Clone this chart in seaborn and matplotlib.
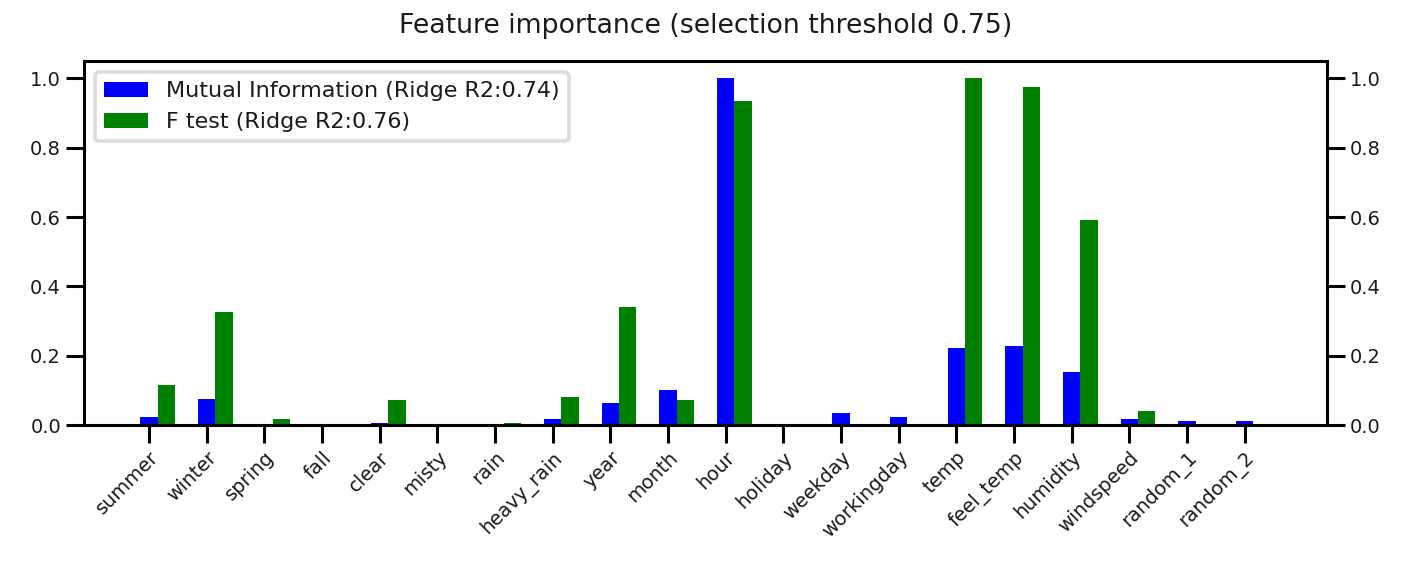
import numpy as np
import seaborn as sns
from matplotlib import pyplot as plt

features = ['summer', 'winter', 'spring', 'fall', 'clear', 'misty', 'rain', 'heavy_rain',
            'year', 'month', 'hour', 'holiday', 'weekday', 'workingday', 'temp',
            'feel_temp', 'humidity', 'windspeed', 'random_1', 'random_2']
mutual_info = [0.024, 0.076, 0.0, 0.0, 0.007, 0.0, 0.0, 0.018, 0.064, 0.100, 1.0,
               0.0, 0.035, 0.024, 0.221, 0.227, 0.152, 0.018, 0.012, 0.012]
f_test = [0.117, 0.326, 0.017, 0.0, 0.071, 0.0, 0.006, 0.082, 0.342, 0.071, 0.936,
          0.0, 0.0, 0.0, 1.0, 0.975, 0.592, 0.042, 0.0, 0.0]
mi_label = 'Mutual Information (Ridge R2:0.74)'
f_label = 'F test (Ridge R2:0.76)'

sns.set_theme(style="ticks")
plt.rcParams['font.family'] = ['DejaVu Sans']
plt.rcParams.update({
    'axes.linewidth': 2.2, 'axes.edgecolor': 'black',
    'xtick.color': 'black', 'ytick.color': 'black',
    'xtick.major.size': 13, 'ytick.major.size': 13,
    'xtick.major.width': 2.2, 'ytick.major.width': 2.2,
    'xtick.labelsize': 14, 'ytick.labelsize': 14,
    'text.color': '#1a1a1a', 'xtick.labelcolor': '#1a1a1a', 'ytick.labelcolor': '#1a1a1a',
})

width = 0.3
x = np.arange(len(features))

fig = plt.figure(figsize=(14.06, 5.66), dpi=100)
ax = fig.add_axes([0.0597, 0.249, 0.8841, 0.643])

sns.barplot(x=x, y=mutual_info, native_scale=True, width=width, color='blue',
            saturation=1, errorbar=None, label=mi_label, linewidth=0, ax=ax)
sns.barplot(x=x + width, y=f_test, native_scale=True, width=width, color='green',
            saturation=1, errorbar=None, label=f_label, linewidth=0, ax=ax)

span = (x[-1] + 1.5 * width) - (x[0] - 0.5 * width)
ax.set_xlim(x[0] - 0.5 * width - 0.05 * span, x[-1] + 1.5 * width + 0.05 * span)
ax.set_ylim(0, 1.05)
ax.set_xticks(x)
ax.set_xticklabels(features, rotation=45, ha='right', rotation_mode='anchor')
ax.set_yticks(np.arange(0, 1.01, 0.2))
ax.set_yticklabels([f'{v:.1f}' for v in np.arange(0, 1.01, 0.2)])
ax.tick_params(axis='y', right=True, labelright=True)
ax.set_xlabel('')
ax.set_ylabel('')

leg = ax.legend(loc='upper left', fontsize=16, frameon=True, fancybox=True)
leg.get_frame().set_edgecolor('#d4d4d4')
leg.get_frame().set_linewidth(2.6)

ax.set_title('Feature importance (selection threshold 0.75)', fontsize=19.3, pad=20)

fig.savefig('out.png', dpi=100)
